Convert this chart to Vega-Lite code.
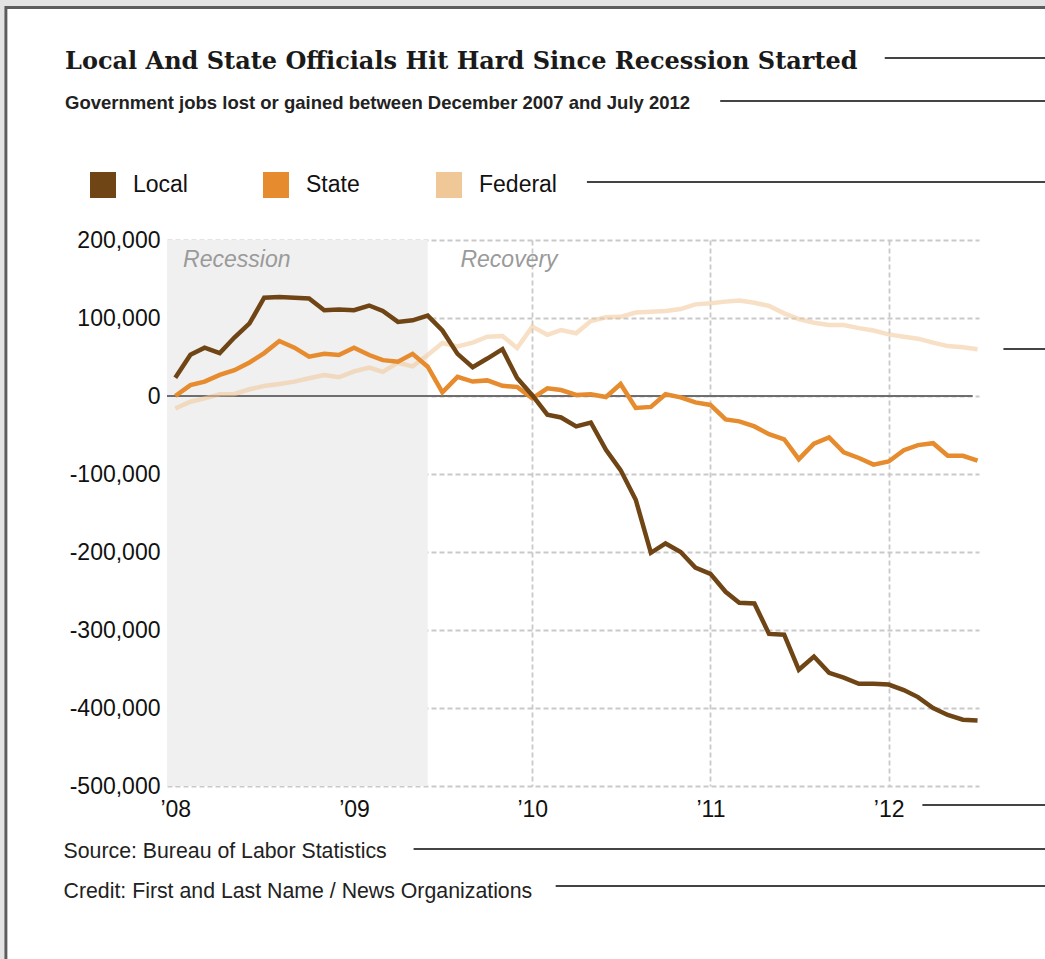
{
  "$schema": "https://vega.github.io/schema/vega-lite/v6.json",
  "width": 812,
  "height": 546,
  "autosize": {"type": "none"},
  "padding": {"left": 167, "top": 240, "right": 66, "bottom": 173},
  "background": "#ffffff",
  "config": {
    "view": {"stroke": null},
    "font": "Liberation Sans",
    "axis": {
      "labelFont": "Liberation Sans",
      "labelFontSize": 23,
      "labelColor": "#111111",
      "gridColor": "#c9c9c9",
      "gridDash": [5, 3],
      "gridWidth": 1.8,
      "domain": false,
      "ticks": false
    }
  },
  "title": {
    "text": "Local And State Officials Hit Hard Since Recession Started",
    "subtitle": "Government jobs lost or gained between December 2007 and July 2012",
    "anchor": "start",
    "frame": "group",
    "orient": "top",
    "font": "DejaVu Serif",
    "fontWeight": "bold",
    "fontSize": 24,
    "color": "#1a1a1a",
    "subtitleFont": "Liberation Sans",
    "subtitleFontWeight": "bold",
    "subtitleFontSize": 18.5,
    "subtitleColor": "#222222",
    "subtitlePadding": 20,
    "dx": -102,
    "offset": -118
  },
  "layer": [
    {
      "data": {"values": [{}]},
      "mark": {"type": "rect", "filled": false, "stroke": "#e3e3e3", "strokeWidth": 12, "clip": false},
      "encoding": {
        "x": {"datum": {"year": 2007, "month": 1, "date": 3, "utc": true}, "type": "temporal"},
        "x2": {"datum": {"year": 2014, "month": 6, "date": 1, "utc": true}},
        "y": {"datum": 507692, "type": "quantitative"},
        "y2": {"datum": -1200000}
      }
    },
    {
      "data": {"values": [{}]},
      "mark": {"type": "rect", "filled": false, "stroke": "#5c5c5c", "strokeWidth": 3, "clip": false},
      "encoding": {
        "x": {"datum": {"year": 2007, "month": 1, "date": 19, "utc": true}, "type": "temporal"},
        "x2": {"datum": {"year": 2014, "month": 6, "date": 1, "utc": true}},
        "y": {"datum": 498077, "type": "quantitative"},
        "y2": {"datum": -1200000}
      }
    },
    {
      "data": {"values": [{}]},
      "mark": {"type": "rect", "fill": "#f0f0f0", "clip": true},
      "encoding": {
        "x": {"datum": {"year": 2007, "month": 12, "date": 1, "utc": true}, "type": "temporal"},
        "x2": {"datum": {"year": 2009, "month": 6, "date": 1, "utc": true}}
      }
    },
    {
      "data": {"values": [{}]},
      "mark": {"type": "text", "align": "left", "baseline": "middle", "font": "Liberation Sans", "fontStyle": "italic", "fontSize": 23, "color": "#9a9a9a", "text": "Recession"},
      "encoding": {
        "x": {"datum": {"year": 2008, "month": 1, "date": 17, "utc": true}, "type": "temporal"},
        "y": {"datum": 174000, "type": "quantitative"}
      }
    },
    {
      "data": {"values": [{}]},
      "mark": {"type": "text", "align": "left", "baseline": "middle", "font": "Liberation Sans", "fontStyle": "italic", "fontSize": 23, "color": "#9a9a9a", "text": "Recovery"},
      "encoding": {
        "x": {"datum": {"year": 2009, "month": 8, "date": 7, "utc": true}, "type": "temporal"},
        "y": {"datum": 174000, "type": "quantitative"}
      }
    },
    {
      "data": {"values": [{}]},
      "mark": {"type": "rule", "color": "#6e6e6e", "strokeWidth": 2},
      "encoding": {
        "x": {"datum": {"year": 2007, "month": 12, "date": 15, "utc": true}, "type": "temporal"},
        "x2": {"datum": {"year": 2012, "month": 6, "date": 21, "utc": true}},
        "y": {"datum": 0, "type": "quantitative"}
      }
    },
    {
      "data": {
        "values": [
          {"m": "2008-01-01", "Local": 23500, "State": 0, "Federal": -16000},
          {"m": "2008-02-01", "Local": 53000, "State": 14000, "Federal": -7300},
          {"m": "2008-03-01", "Local": 62000, "State": 18500, "Federal": -3000},
          {"m": "2008-04-01", "Local": 55000, "State": 27000, "Federal": 2200},
          {"m": "2008-05-01", "Local": 75000, "State": 33000, "Federal": 2600},
          {"m": "2008-06-01", "Local": 93000, "State": 43000, "Federal": 8600},
          {"m": "2008-07-01", "Local": 126000, "State": 55000, "Federal": 12800},
          {"m": "2008-08-01", "Local": 127000, "State": 70500, "Federal": 15400},
          {"m": "2008-09-01", "Local": 126000, "State": 62000, "Federal": 18400},
          {"m": "2008-10-01", "Local": 125000, "State": 50500, "Federal": 22700},
          {"m": "2008-11-01", "Local": 110000, "State": 54000, "Federal": 27000},
          {"m": "2008-12-01", "Local": 111000, "State": 52500, "Federal": 24000},
          {"m": "2009-01-01", "Local": 110000, "State": 62000, "Federal": 31500},
          {"m": "2009-02-01", "Local": 116000, "State": 52500, "Federal": 36500},
          {"m": "2009-03-01", "Local": 109000, "State": 46000, "Federal": 31000},
          {"m": "2009-04-01", "Local": 95000, "State": 44000, "Federal": 42700},
          {"m": "2009-05-01", "Local": 97000, "State": 54000, "Federal": 38000},
          {"m": "2009-06-01", "Local": 103000, "State": 37500, "Federal": 52600},
          {"m": "2009-07-01", "Local": 84000, "State": 4700, "Federal": 68000},
          {"m": "2009-08-01", "Local": 54000, "State": 24500, "Federal": 63500},
          {"m": "2009-09-01", "Local": 37000, "State": 18500, "Federal": 68500},
          {"m": "2009-10-01", "Local": 48000, "State": 20000, "Federal": 76000},
          {"m": "2009-11-01", "Local": 60000, "State": 13000, "Federal": 77000},
          {"m": "2009-12-01", "Local": 23000, "State": 11500, "Federal": 61500},
          {"m": "2010-01-01", "Local": 1000, "State": -3000, "Federal": 89000},
          {"m": "2010-02-01", "Local": -24000, "State": 9800, "Federal": 78500},
          {"m": "2010-03-01", "Local": -27500, "State": 7700, "Federal": 84500},
          {"m": "2010-04-01", "Local": -39000, "State": 1300, "Federal": 80500},
          {"m": "2010-05-01", "Local": -34000, "State": 2300, "Federal": 96000},
          {"m": "2010-06-01", "Local": -69000, "State": -1300, "Federal": 101000},
          {"m": "2010-07-01", "Local": -95000, "State": 15400, "Federal": 101500},
          {"m": "2010-08-01", "Local": -133000, "State": -15400, "Federal": 107000},
          {"m": "2010-09-01", "Local": -201000, "State": -14000, "Federal": 108000},
          {"m": "2010-10-01", "Local": -189000, "State": 2300, "Federal": 109000},
          {"m": "2010-11-01", "Local": -200000, "State": -1700, "Federal": 111500},
          {"m": "2010-12-01", "Local": -220000, "State": -8200, "Federal": 117500},
          {"m": "2011-01-01", "Local": -228000, "State": -11500, "Federal": 119000},
          {"m": "2011-02-01", "Local": -251000, "State": -30000, "Federal": 121000},
          {"m": "2011-03-01", "Local": -265000, "State": -32500, "Federal": 122500},
          {"m": "2011-04-01", "Local": -266000, "State": -39000, "Federal": 119500},
          {"m": "2011-05-01", "Local": -305000, "State": -49000, "Federal": 115500},
          {"m": "2011-06-01", "Local": -306000, "State": -55500, "Federal": 106000},
          {"m": "2011-07-01", "Local": -351000, "State": -81000, "Federal": 98500},
          {"m": "2011-08-01", "Local": -334000, "State": -61000, "Federal": 94000},
          {"m": "2011-09-01", "Local": -355000, "State": -53000, "Federal": 91000},
          {"m": "2011-10-01", "Local": -361000, "State": -72300, "Federal": 91000},
          {"m": "2011-11-01", "Local": -369000, "State": -79500, "Federal": 87000},
          {"m": "2011-12-01", "Local": -369000, "State": -88000, "Federal": 84000},
          {"m": "2012-01-01", "Local": -370000, "State": -84000, "Federal": 79000},
          {"m": "2012-02-01", "Local": -377000, "State": -69500, "Federal": 76000},
          {"m": "2012-03-01", "Local": -386000, "State": -63000, "Federal": 73500},
          {"m": "2012-04-01", "Local": -400000, "State": -60500, "Federal": 68500},
          {"m": "2012-05-01", "Local": -409000, "State": -76700, "Federal": 64000},
          {"m": "2012-06-01", "Local": -415000, "State": -76700, "Federal": 62500},
          {"m": "2012-07-01", "Local": -416000, "State": -83000, "Federal": 60000}
        ]
      },
      "transform": [{"fold": ["Federal", "State", "Local"], "as": ["series", "jobs"]}],
      "mark": {"type": "line", "strokeWidth": 4.5, "strokeJoin": "miter", "clip": true},
      "encoding": {
        "x": {
          "field": "m",
          "type": "temporal",
          "scale": {
            "type": "utc",
            "nice": false,
            "domain": [
              {"year": 2007, "month": 12, "date": 15, "utc": true},
              {"year": 2012, "month": 7, "date": 4, "utc": true}
            ]
          },
          "axis": {
            "values": [
              {"year": 2008, "month": 1, "date": 1, "utc": true},
              {"year": 2009, "month": 1, "date": 1, "utc": true},
              {"year": 2010, "month": 1, "date": 1, "utc": true},
              {"year": 2011, "month": 1, "date": 1, "utc": true},
              {"year": 2012, "month": 1, "date": 1, "utc": true}
            ],
            "labelExpr": "'’' + utcFormat(datum.value, '%y')",
            "labelPadding": 12,
            "grid": true,
            "title": ["Source: Bureau of Labor Statistics", "Credit: First and Last Name / News Organizations"],
            "titleFont": "Liberation Sans",
            "titleFontSize": 21.3,
            "titleFontWeight": "normal",
            "titleColor": "#222222",
            "titleLineHeight": 40,
            "titleAlign": "left",
            "titleAnchor": "start",
            "titleBaseline": "alphabetic",
            "titleX": -104,
            "titleY": 71
          }
        },
        "y": {
          "field": "jobs",
          "type": "quantitative",
          "scale": {"domain": [-500000, 200000], "nice": false, "zero": false},
          "axis": {
            "values": [-500000, -400000, -300000, -200000, -100000, 0, 100000, 200000],
            "labelExpr": "replace(format(datum.value, ','), '−', '-')",
            "labelPadding": 7,
            "grid": true,
            "title": null
          }
        },
        "color": {
          "field": "series",
          "type": "nominal",
          "scale": {"domain": ["Local", "State", "Federal"], "range": ["#6f4516", "#e68b2e", "#f0c796"]},
          "legend": {
            "orient": "none",
            "legendX": -77,
            "legendY": -68,
            "direction": "horizontal",
            "columns": 3,
            "gridAlign": "all",
            "columnPadding": 52,
            "symbolType": "square",
            "symbolSize": 676,
            "symbolStrokeWidth": 0,
            "labelFont": "Liberation Sans",
            "labelFontSize": 23,
            "labelColor": "#111111",
            "labelOffset": 17,
            "labelLimit": 300,
            "title": null,
            "padding": 0,
            "encode": {"symbols": {"update": {"fill": {"scale": "color", "field": "value"}, "opacity": {"value": 1}}}}
          }
        },
        "strokeOpacity": {"condition": {"test": "datum.series === 'Federal'", "value": 0.55}, "value": 1}
      }
    },
    {
      "data": {"values": [{}]},
      "mark": {"type": "rule", "color": "#444444", "strokeWidth": 2, "clip": false},
      "encoding": {
        "x": {"datum": {"year": 2011, "month": 12, "date": 24, "utc": true}, "type": "temporal"},
        "x2": {"datum": {"year": 2013, "month": 6, "date": 1, "utc": true}},
        "y": {"datum": 433333, "type": "quantitative"}
      }
    },
    {
      "data": {"values": [{}]},
      "mark": {"type": "rule", "color": "#444444", "strokeWidth": 2, "clip": false},
      "encoding": {
        "x": {"datum": {"year": 2011, "month": 1, "date": 21, "utc": true}, "type": "temporal"},
        "x2": {"datum": {"year": 2013, "month": 6, "date": 1, "utc": true}},
        "y": {"datum": 378205, "type": "quantitative"}
      }
    },
    {
      "data": {"values": [{}]},
      "mark": {"type": "rule", "color": "#444444", "strokeWidth": 2, "clip": false},
      "encoding": {
        "x": {"datum": {"year": 2010, "month": 4, "date": 23, "utc": true}, "type": "temporal"},
        "x2": {"datum": {"year": 2013, "month": 6, "date": 1, "utc": true}},
        "y": {"datum": 274359, "type": "quantitative"}
      }
    },
    {
      "data": {"values": [{}]},
      "mark": {"type": "rule", "color": "#444444", "strokeWidth": 2, "clip": false},
      "encoding": {
        "x": {"datum": {"year": 2012, "month": 8, "date": 23, "utc": true}, "type": "temporal"},
        "x2": {"datum": {"year": 2013, "month": 6, "date": 1, "utc": true}},
        "y": {"datum": 60256, "type": "quantitative"}
      }
    },
    {
      "data": {"values": [{}]},
      "mark": {"type": "rule", "color": "#444444", "strokeWidth": 2, "clip": false},
      "encoding": {
        "x": {"datum": {"year": 2012, "month": 3, "date": 10, "utc": true}, "type": "temporal"},
        "x2": {"datum": {"year": 2013, "month": 6, "date": 1, "utc": true}},
        "y": {"datum": -524359, "type": "quantitative"}
      }
    },
    {
      "data": {"values": [{}]},
      "mark": {"type": "rule", "color": "#444444", "strokeWidth": 2, "clip": false},
      "encoding": {
        "x": {"datum": {"year": 2009, "month": 5, "date": 3, "utc": true}, "type": "temporal"},
        "x2": {"datum": {"year": 2013, "month": 6, "date": 1, "utc": true}},
        "y": {"datum": -580769, "type": "quantitative"}
      }
    },
    {
      "data": {"values": [{}]},
      "mark": {"type": "rule", "color": "#444444", "strokeWidth": 2, "clip": false},
      "encoding": {
        "x": {"datum": {"year": 2010, "month": 2, "date": 18, "utc": true}, "type": "temporal"},
        "x2": {"datum": {"year": 2013, "month": 6, "date": 1, "utc": true}},
        "y": {"datum": -628205, "type": "quantitative"}
      }
    }
  ]
}
